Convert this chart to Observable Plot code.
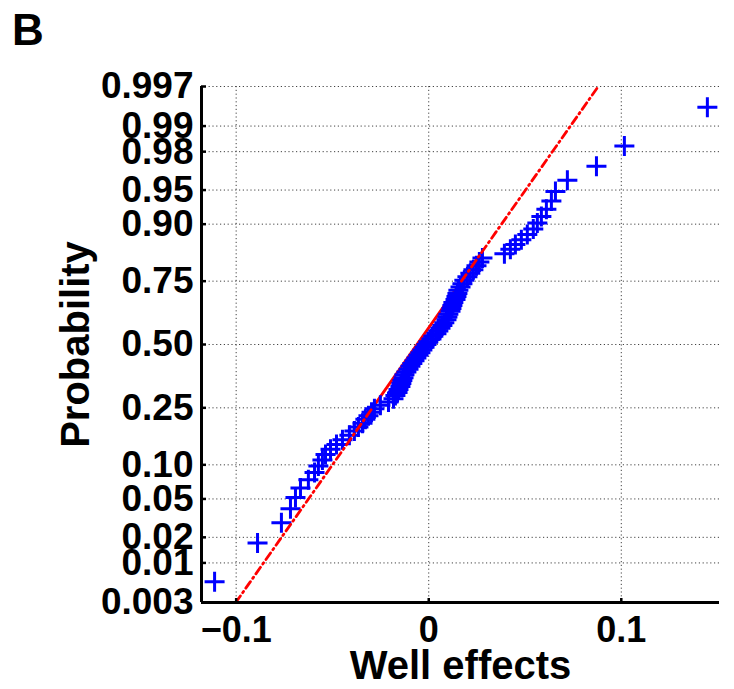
<!DOCTYPE html>
<html><head><meta charset="utf-8">
<script src="https://cdn.jsdelivr.net/npm/d3@7"></script>
<script src="https://cdn.jsdelivr.net/npm/@observablehq/plot@0.6"></script>
<style>
body{margin:0;background:#fff;}
#wrap{position:relative;width:734px;height:689px;font-family:"Liberation Sans",Arial,sans-serif;}
#panel{position:absolute;left:12px;top:8px;font-size:44px;font-weight:bold;line-height:1;color:#000;}
</style></head><body><div id="wrap"></div>
<script>
const panelLabel = "B";
const xLabel = "Well effects";
const yLabel = "Probability";
// sorted well effects (one value per rank)
const wellEffects = [
-0.1112, -0.0889, -0.0765, -0.0718, -0.0692, -0.0666, -0.0625, -0.0593, -0.0573, -0.0552,
-0.0536, -0.0510, -0.0479, -0.0448, -0.0412, -0.0386, -0.0365, -0.0344, -0.0329, -0.0313,
-0.0297, -0.0282, -0.0251, -0.0209, -0.0183, -0.0173, -0.0162, -0.0157, -0.0147, -0.0142,
-0.0137, -0.0131, -0.0126, -0.0116, -0.0105, -0.0095, -0.0085, -0.0074, -0.0064, -0.0053,
-0.0043, -0.0033, -0.0022, -0.0012, -0.0002, 0.0014, 0.0024, 0.0040, 0.0050, 0.0061,
0.0071, 0.0081, 0.0092, 0.0097, 0.0102, 0.0113, 0.0118, 0.0123, 0.0128, 0.0139,
0.0144, 0.0149, 0.0154, 0.0165, 0.0175, 0.0185, 0.0201, 0.0216, 0.0232, 0.0248,
0.0263, 0.0279, 0.0393, 0.0424, 0.0450, 0.0481, 0.0512, 0.0543, 0.0564, 0.0585,
0.0611, 0.0637, 0.0658, 0.0720, 0.0871, 0.1016, 0.1447];
const probTicks = [0.003, 0.01, 0.02, 0.05, 0.10, 0.25, 0.50, 0.75, 0.90, 0.95, 0.98, 0.99, 0.997];
const probTickLabels = ["0.003","0.01","0.02","0.05","0.10","0.25","0.50","0.75","0.90","0.95","0.98","0.99","0.997"];
const xTicks = [-0.1, 0, 0.1];
const xTickLabels = ["\u22120.1", "0", "0.1"];
const refQuartiles = [-0.0292, 0.0170]; // 25th and 75th percentiles of the reference line
const xDomain = [-0.118, 0.151];

function probit(p){
  const a=[-3.969683028665376e+01,2.209460984245205e+02,-2.759285104469687e+02,1.383577518672690e+02,-3.066479806614716e+01,2.506628277459239e+00];
  const b=[-5.447609879822406e+01,1.615858368580409e+02,-1.556989798598866e+02,6.680131188771972e+01,-1.328068155288572e+01];
  const c=[-7.784894002430293e-03,-3.223964580411365e-01,-2.400758277161838e+00,-2.549732539343734e+00,4.374664141464968e+00,2.938163982698783e+00];
  const d=[7.784695709041462e-03,3.224671290700398e-01,2.445134137142996e+00,3.754408661907416e+00];
  const pl=0.02425, ph=1-pl; let q,r;
  if(p<pl){q=Math.sqrt(-2*Math.log(p));return (((((c[0]*q+c[1])*q+c[2])*q+c[3])*q+c[4])*q+c[5])/((((d[0]*q+d[1])*q+d[2])*q+d[3])*q+1);}
  if(p<=ph){q=p-0.5;r=q*q;return (((((a[0]*r+a[1])*r+a[2])*r+a[3])*r+a[4])*r+a[5])*q/(((((b[0]*r+b[1])*r+b[2])*r+b[3])*r+b[4])*r+1);}
  q=Math.sqrt(-2*Math.log(1-p));return -(((((c[0]*q+c[1])*q+c[2])*q+c[3])*q+c[4])*q+c[5])/((((d[0]*q+d[1])*q+d[2])*q+d[3])*q+1);
}

const n = wellEffects.length;
const rows = wellEffects.map((x, i) => ({x, z: probit((i + 0.5) / n)}));
const zTicks = probTicks.map(probit);
const yDomain = [probit(probTicks[0]), probit(probTicks[probTicks.length - 1])];
const zq = probit(0.75);
const mu = (refQuartiles[0] + refQuartiles[1]) / 2;
const sigma = (refQuartiles[1] - refQuartiles[0]) / (2 * zq);
const solid = [{x: refQuartiles[0], z: -zq}, {x: refQuartiles[1], z: zq}];
const dashLow = [{x: mu + sigma * yDomain[0], z: yDomain[0]}, {x: refQuartiles[0], z: -zq}];
const dashHigh = [{x: refQuartiles[1], z: zq}, {x: mu + sigma * yDomain[1], z: yDomain[1]}];

const plusSymbol = {draw(ctx, size){ const r = Math.sqrt(size / Math.PI); ctx.moveTo(-r,0); ctx.lineTo(r,0); ctx.moveTo(0,-r); ctx.lineTo(0,r);} };
const gridStyle = {stroke: "#222", strokeOpacity: 0.85, strokeWidth: 1, strokeDasharray: "1.2,2.6"};
const dashStyle = {stroke: "#ff0000", strokeWidth: 2.8, strokeDasharray: "8,4,1.5,4"};

const chart = Plot.plot({
  width: 734, height: 689,
  marginLeft: 201, marginRight: 15, marginTop: 86, marginBottom: 87,
  style: {fontFamily: "Liberation Sans, Arial, sans-serif", background: "#fff", color: "#000"},
  x: {domain: xDomain},
  y: {domain: yDomain},
  marks: [
    Plot.gridY(zTicks, gridStyle),
    Plot.gridX(xTicks, gridStyle),
    Plot.line(solid, {x: "x", y: "z", stroke: "#ff0000", strokeWidth: 2.8}),
    Plot.dot(rows, {x: "x", y: "z", symbol: plusSymbol, r: 10, stroke: "#0000ff", strokeWidth: 3, fill: "none"}),
    Plot.line(dashLow, {x: "x", y: "z", ...dashStyle}),
    Plot.line(dashHigh, {x: "x", y: "z", ...dashStyle}),
    Plot.ruleX([xDomain[0]], {strokeWidth: 3}),
    Plot.ruleY([yDomain[0]], {strokeWidth: 3}),
    Plot.axisY(zTicks, {anchor: "left", tickSize: -5, strokeWidth: 2.5, fill: "none", label: null}),
    Plot.axisY(zTicks, {anchor: "left", tickSize: 0, tickPadding: 8, fontSize: 37, fontWeight: "bold", label: null,
      tickFormat: d => probTickLabels[zTicks.indexOf(d)]}),
    Plot.axisX(xTicks, {anchor: "bottom", tickSize: -4, strokeWidth: 2.5, fill: "none", label: null}),
    Plot.axisX(xTicks, {anchor: "bottom", tickSize: 0, tickPadding: 14, fontSize: 36, fontWeight: "bold", label: null,
      tickFormat: d => xTickLabels[xTicks.indexOf(d)]}),
    Plot.text([xLabel], {text: d => d, frameAnchor: "bottom", textAnchor: "middle", dy: 48, lineAnchor: "top", fontSize: 40, fontWeight: "bold"}),
    Plot.text([yLabel], {text: d => d, frameAnchor: "left", textAnchor: "middle", dx: -141, rotate: -90, lineAnchor: "top", fontSize: 40, fontWeight: "bold"})
  ]
});
const wrap = document.getElementById("wrap");
wrap.appendChild(chart);
const panel = document.createElement("div");
panel.id = "panel"; panel.textContent = panelLabel;
wrap.appendChild(panel);
</script></body></html>
